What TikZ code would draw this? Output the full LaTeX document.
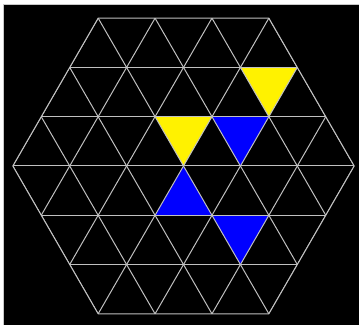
\documentclass[tikz,border=0pt]{standalone}
\usetikzlibrary{calc}
\definecolor{gridgray}{RGB}{192,192,192}
\definecolor{framegray}{RGB}{200,200,200}
\tikzset{gridline/.style={draw=gridgray, line width=1pt}}
\begin{document}
\begin{tikzpicture}[x=56.9pt, y=56.9pt, line cap=round, line join=round]
	
	% Define bounding box
	\def\xmin{-3.225} \def\xmax{3.084}
	\def\ymin{-2.794} \def\ymax{2.917}
	\def\h{0.866}
	\useasboundingbox (\xmin,\ymin) rectangle (\xmax,\ymax);
	
	% Black background with frame
	\filldraw[fill=black, draw=framegray, line width=1pt] (-3.163,2.838) rectangle (3.4,-3.1);
	
	% Hexagon corners
	\coordinate (E) at (3,0);
	\coordinate (NE) at (1.5,3*\h);
	\coordinate (NW) at (-1.5,3*\h);
	\coordinate (W) at (-3,0);
	\coordinate (SW) at (-1.5,-3*\h);
	\coordinate (SE) at (1.5,-3*\h);
	
	% Coloured cells
	\fill[yellow] (1,2*\h) -- (2,2*\h) -- (1.5,\h) -- cycle;
	\fill[yellow] (-0.5,\h) -- (0.5,\h) -- (0,0) -- cycle;
	\fill[blue] (0.5,\h) -- (1.5,\h) -- (1,0) -- cycle;
	\fill[blue] (0,0) -- (-0.5,-\h) -- (0.5,-\h) -- cycle;
	\fill[blue] (0.5,-\h) -- (1.5,-\h) -- (1,-2*\h) -- cycle;
	
	% Scope to clip the grid
	\begin{scope}
		\clip (E) -- (NE) -- (NW) -- (W) -- (SW) -- (SE) -- cycle;
		
		% Horizontal rows
		\foreach \k in {-2,...,2}
		\draw[gridline] (-3,\k*\h) -- (3,\k*\h);
		
		% Slanted lines through (i,0)
		\foreach \i in {-6,...,6}{
			\draw[gridline] ($(\i,0)+(60:-4)$) -- ($(\i,0)+(60:4)$);
			\draw[gridline] ($(\i,0)+(120:-4)$) -- ($(\i,0)+(120:4)$);
		}
	\end{scope}
	
	% Hexagon outline
	\draw[gridline] (E) -- (NE) -- (NW) -- (W) -- (SW) -- (SE) -- cycle;
	
\end{tikzpicture}
\end{document}
